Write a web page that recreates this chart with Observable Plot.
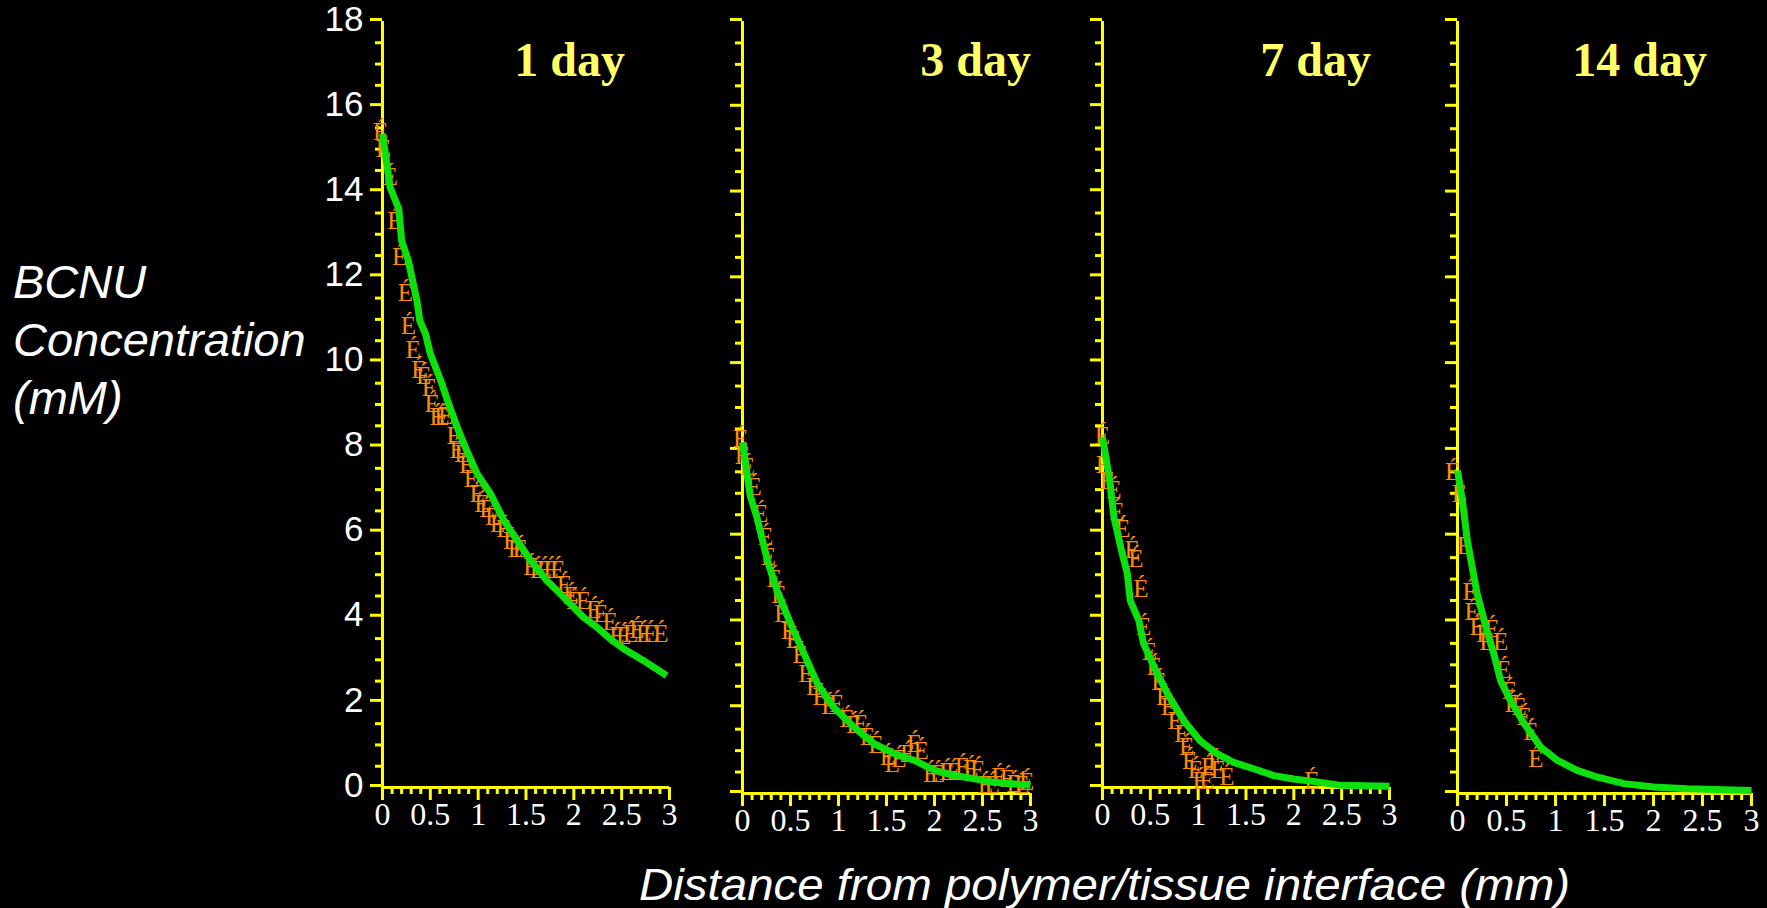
<!DOCTYPE html>
<html>
<head>
<meta charset="utf-8">
<script src="https://cdn.jsdelivr.net/npm/d3@7"></script>
<script src="https://cdn.jsdelivr.net/npm/@observablehq/plot@0.6"></script>
<style>
  html, body { margin: 0; padding: 0; background: #000; }
  #stage { position: relative; width: 1767px; height: 908px; background: #000; overflow: hidden; }
  .panel { position: absolute; max-width: none !important; }
  .title { position: absolute; font-family: "Liberation Serif", "Times New Roman", serif; font-weight: bold; font-size: 48px; line-height: 48px; color: #ffff66; white-space: nowrap; }
  #ylab { position: absolute; left: 13px; top: 253px; font-family: "Liberation Sans", Arial, sans-serif; font-style: italic; font-size: 47px; line-height: 58px; color: #fff; }
  #xlab { position: absolute; top: 861px; font-family: "Liberation Sans", Arial, sans-serif; font-style: italic; font-size: 44px; line-height: 48px; color: #fff; white-space: nowrap; transform-origin: left center; }
</style>
</head>
<body>
<div id="stage"></div>
<script>
// ---- tick values / labels ----
const yMajorTicks = [0, 2, 4, 6, 8, 10, 12, 14, 16, 18];
const yMinorTicks = [0.5, 1, 1.5, 2.5, 3, 3.5, 4.5, 5, 5.5, 6.5, 7, 7.5, 8.5, 9, 9.5, 10.5, 11, 11.5, 12.5, 13, 13.5, 14.5, 15, 15.5, 16.5, 17, 17.5];
const xMajorTicks = [0, 0.5, 1, 1.5, 2, 2.5, 3];
const xMinorTicks = [0.1, 0.2, 0.3, 0.4, 0.6, 0.7, 0.8, 0.9, 1.1, 1.2, 1.3, 1.4, 1.6, 1.7, 1.8, 1.9, 2.1, 2.2, 2.3, 2.4, 2.6, 2.7, 2.8, 2.9];
const xTickLabels = ["0", "0.5", "1", "1.5", "2", "2.5", "3"];

// ---- panel titles ----
const panelTitles = ["1 day", "3 day", "7 day", "14 day"];

// ---- measured points (orange markers) ----
const day1PtsX = [-0.02, 0.01, 0.08, 0.13, 0.18, 0.24, 0.27, 0.32, 0.38, 0.43, 0.49, 0.52, 0.57, 0.62, 0.66, 0.75, 0.78, 0.83, 0.88, 0.93, 0.99, 1.04, 1.09, 1.15, 1.20, 1.27, 1.34, 1.39, 1.44, 1.55, 1.62, 1.69, 1.76, 1.83, 1.90, 1.97, 2.00, 2.10, 2.21, 2.28, 2.38, 2.45, 2.52, 2.59, 2.66, 2.73, 2.80, 2.91];
const day1PtsY = [15.4, 15.0, 14.34, 13.32, 12.46, 11.61, 10.85, 10.27, 9.80, 9.68, 9.39, 9.02, 8.70, 8.70, 8.72, 8.27, 7.92, 7.84, 7.57, 7.25, 6.90, 6.67, 6.55, 6.35, 6.20, 6.08, 5.80, 5.61, 5.61, 5.18, 5.10, 5.10, 5.10, 5.10, 4.75, 4.51, 4.39, 4.39, 4.16, 4.08, 3.88, 3.57, 3.57, 3.61, 3.69, 3.61, 3.61, 3.61];

const day3PtsX = [-0.02, 0, 0.05, 0.12, 0.19, 0.24, 0.27, 0.33, 0.38, 0.41, 0.48, 0.53, 0.60, 0.66, 0.74, 0.81, 0.90, 0.98, 1.09, 1.16, 1.23, 1.30, 1.39, 1.51, 1.56, 1.63, 1.72, 1.79, 1.86, 1.96, 2.03, 2.13, 2.20, 2.29, 2.38, 2.45, 2.53, 2.60, 2.67, 2.76, 2.83, 2.91, 2.96];
const day3PtsY = [8.27, 7.88, 7.61, 7.14, 6.52, 5.98, 5.51, 5.01, 4.62, 4.19, 3.80, 3.57, 3.22, 2.79, 2.48, 2.25, 2.05, 2.09, 1.74, 1.59, 1.63, 1.31, 1.12, 0.85, 0.69, 0.81, 0.93, 1.16, 1.00, 0.46, 0.46, 0.50, 0.50, 0.61, 0.58, 0.54, 0.19, 0.19, 0.38, 0.34, 0.23, 0.19, 0.26];

const day7PtsX = [0, 0.01, 0.05, 0.12, 0.15, 0.21, 0.31, 0.35, 0.40, 0.43, 0.49, 0.54, 0.59, 0.64, 0.69, 0.76, 0.83, 0.88, 0.91, 0.97, 1.02, 1.09, 1.11, 1.18, 1.21, 1.30, 2.19];
const day7PtsY = [8.27, 7.57, 7.21, 6.98, 6.47, 6.08, 5.57, 5.37, 4.67, 3.77, 3.18, 2.83, 2.47, 2.12, 1.89, 1.57, 1.26, 0.95, 0.63, 0.40, 0.16, 0.16, 0.47, 0.59, 0.40, 0.24, 0.16];

const day14PtsX = [-0.05, 0.02, 0.07, 0.13, 0.15, 0.20, 0.27, 0.30, 0.35, 0.44, 0.47, 0.53, 0.56, 0.63, 0.68, 0.75, 0.80];
const day14PtsY = [7.49, 6.99, 5.78, 4.69, 4.23, 3.88, 3.72, 3.53, 3.84, 3.53, 2.87, 2.40, 2.09, 2.01, 1.78, 1.43, 0.81];

// ---- model fit (green curves) ----
const day1FitX = [0, 0.08, 0.17, 0.20, 0.27, 0.36, 0.39, 0.45, 0.50, 0.61, 0.68, 0.78, 0.88, 0.99, 1.13, 1.27, 1.41, 1.55, 1.72, 1.86, 2.10, 2.24, 2.38, 2.52, 2.73, 2.97];
const day1FitY = [15.36, 14.1, 13.6, 12.85, 12.38, 11.44, 10.97, 10.66, 10.19, 9.56, 9.09, 8.47, 7.92, 7.37, 6.90, 6.27, 5.80, 5.33, 4.86, 4.55, 4.0, 3.77, 3.49, 3.26, 2.98, 2.63];

const day3FitX = [0, 0.08, 0.15, 0.26, 0.36, 0.50, 0.64, 0.78, 0.95, 1.16, 1.37, 1.58, 1.79, 2.0, 2.21, 2.42, 2.62, 3.0];
const day3FitY = [8.19, 6.95, 6.44, 5.43, 4.73, 3.96, 3.26, 2.56, 2.01, 1.55, 1.16, 0.93, 0.77, 0.54, 0.42, 0.34, 0.26, 0.19];

const day7FitX = [0, 0.07, 0.12, 0.19, 0.26, 0.29, 0.38, 0.43, 0.54, 0.68, 0.85, 1.02, 1.20, 1.37, 1.58, 1.79, 2.0, 2.28, 2.49, 3.0];
const day7FitY = [8.23, 7.29, 6.35, 5.65, 5.02, 4.39, 3.92, 3.38, 2.83, 2.20, 1.57, 1.10, 0.79, 0.59, 0.44, 0.28, 0.20, 0.12, 0.05, 0.03];

const day14FitX = [0, 0.05, 0.10, 0.15, 0.20, 0.29, 0.37, 0.44, 0.54, 0.68, 0.85, 1.02, 1.22, 1.43, 1.70, 2.0, 2.34, 3.0];
const day14FitY = [7.53, 6.83, 5.90, 5.28, 4.66, 3.88, 3.26, 2.63, 2.17, 1.63, 1.08, 0.77, 0.54, 0.38, 0.23, 0.15, 0.11, 0.07];

// ---- assemble ----
const zip = (xs, ys) => xs.map((x, i) => ({x, y: ys[i]}));
const panels = [
  {title: panelTitles[0], pts: zip(day1PtsX, day1PtsY), fit: zip(day1FitX, day1FitY), left: 382, right: 669, top: 21, bottom: 787, titleRight: 625, yLabels: true},
  {title: panelTitles[1], pts: zip(day3PtsX, day3PtsY), fit: zip(day3FitX, day3FitY), left: 742, right: 1030, top: 21, bottom: 793, titleRight: 1031, yLabels: false},
  {title: panelTitles[2], pts: zip(day7PtsX, day7PtsY), fit: zip(day7FitX, day7FitY), left: 1102, right: 1389, top: 21, bottom: 787, titleRight: 1371, yLabels: false},
  {title: panelTitles[3], pts: zip(day14PtsX, day14PtsY), fit: zip(day14FitX, day14FitY), left: 1457, right: 1751, top: 21, bottom: 793, titleRight: 1707, yLabels: false}
];

const AXIS = "#ffff00";
const ORANGE = "#ff8c00";
const GREEN = "#0de00d";
const SANS = "Liberation Sans, Arial, sans-serif";
const SERIF = "Liberation Serif, Times New Roman, serif";
const stage = document.getElementById("stage");
const mL = 70, mR = 24, mT = 12, mB = 50;

for (const p of panels) {
  const fw = p.right - p.left, fh = p.bottom - p.top;
  const chart = Plot.plot({
    width: mL + fw + mR,
    height: mT + fh + mB,
    marginLeft: mL, marginRight: mR, marginTop: mT, marginBottom: mB,
    style: {background: "transparent", color: "white", overflow: "visible"},
    x: {domain: [0, 3]},
    y: {domain: [0, 18]},
    marks: [
      Plot.axisY({ticks: yMinorTicks, tickSize: 7, stroke: AXIS, strokeWidth: 3, tickFormat: () => "", label: null}),
      Plot.axisY({ticks: yMajorTicks, tickSize: 12, tickPadding: 7, stroke: AXIS, strokeWidth: 3,
        tickFormat: p.yLabels ? (d => String(d)) : (() => ""), fill: "white",
        fontFamily: SANS, fontSize: 35, dy: -2, label: null}),
      Plot.axisX({ticks: xMinorTicks, tickSize: 7, stroke: AXIS, strokeWidth: 3, tickFormat: () => "", label: null}),
      Plot.axisX({ticks: xMajorTicks, tickSize: 13, tickPadding: 2, stroke: AXIS, strokeWidth: 3,
        tickFormat: d => xTickLabels[xMajorTicks.indexOf(d)], fill: "white",
        fontFamily: SERIF, fontSize: 32, label: null}),
      Plot.ruleX([0], {stroke: AXIS, strokeWidth: 3}),
      Plot.ruleY([0], {stroke: AXIS, strokeWidth: 3}),
      Plot.text(p.pts, {x: "x", y: "y", text: () => "É", fill: ORANGE, fontFamily: SERIF, fontSize: 25}),
      Plot.line(p.fit, {x: "x", y: "y", stroke: GREEN, strokeWidth: 7, strokeLinejoin: "round", strokeLinecap: "butt"})
    ]
  });
  chart.classList.add("panel");
  chart.style.left = (p.left - mL) + "px";
  chart.style.top = (p.top - mT) + "px";
  stage.appendChild(chart);

  const t = document.createElement("div");
  t.className = "title";
  t.textContent = p.title;
  t.style.right = (1767 - p.titleRight) + "px";
  t.style.top = "36px";
  stage.appendChild(t);
}

const ylab = document.createElement("div");
ylab.id = "ylab";
ylab.innerHTML = "BCNU<br>Concentration<br>(mM)";
stage.appendChild(ylab);

const xlab = document.createElement("div");
xlab.id = "xlab";
xlab.textContent = "Distance from polymer/tissue interface (mm)";
stage.appendChild(xlab);
const targetW = 931, targetLeft = 639;
const w = xlab.getBoundingClientRect().width;
xlab.style.left = targetLeft + "px";
xlab.style.transform = `scaleX(${targetW / w})`;
</script>
</body>
</html>
